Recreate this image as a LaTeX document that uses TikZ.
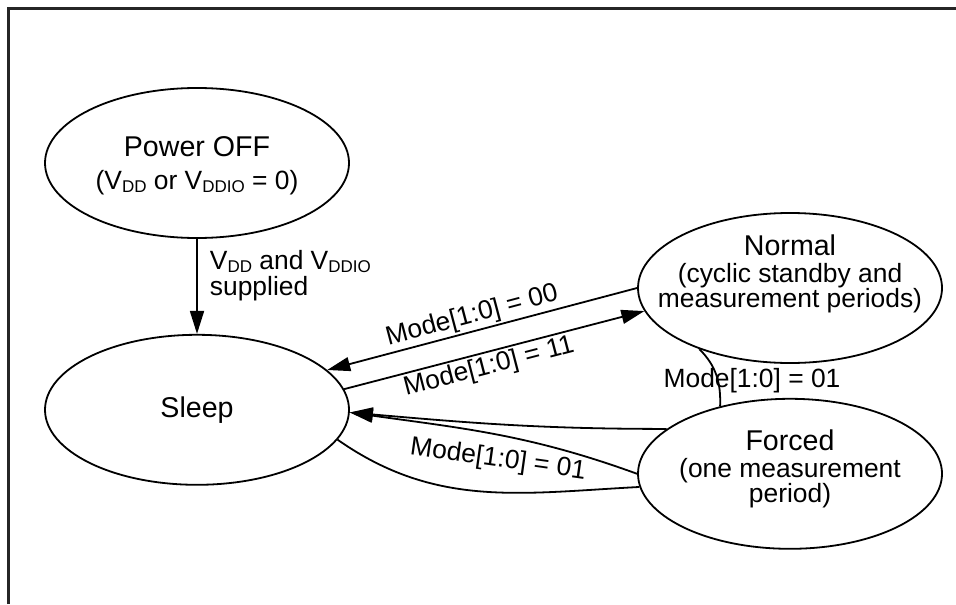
\documentclass[tikz,border=0pt]{standalone}
\usepackage{fontspec}
\setmainfont{Liberation Sans}
\usetikzlibrary{positioning, shapes.geometric, arrows.meta}

\newcommand{\vsub}[1]{\raisebox{-1.5pt}{\fontsize{8.5}{8.5}\selectfont #1}}
\newcommand{\statename}[1]{{\fontsize{14.3}{14}\selectfont #1}}

\tikzset{
  state/.style={draw, ellipse, line width=0.9pt, minimum width=152pt, minimum height=75pt, inner sep=0pt},
  statetext/.style={align=center, inner sep=0pt, font=\fontsize{13.2}{12.5}\selectfont},
  trans/.style={line width=0.9pt, -{Triangle[length=11.5pt, width=7pt]}},
  modelabel/.style={font=\fontsize{13.2}{13}\selectfont, inner sep=1pt},
}

\begin{document}
\begin{tikzpicture}[x=0.5pt, y=-0.5pt]
  \useasboundingbox (0,0) rectangle (956,604);
  % frame, only top and left edge show
  \draw[line width=1.5pt, black!85] (8,604) -- (8,9) -- (956,9);

  % states
  \node[state] (power) at (197,163) {};
  \node[state, below=47.5pt of power] (sleep) {};
  \node[state] (normal) at (790,288) {};
  \node[state, below=17pt of normal] (forced) {};

  \node[statetext] (powertext) at ([yshift=-1.5pt]power.center) {\statename{Power OFF}\\[4pt] (V\vsub{DD} or V\vsub{DDIO} = 0)};
  \node[statetext] (sleeptext) at (sleep.center) {\statename{Sleep}};
  \node[statetext] (normaltext) at ([yshift=7.25pt]normal.center) {\statename{Normal}\\[1pt] (cyclic standby and\\ measurement periods)};
  \node[statetext] (forcedtext) at ([yshift=2.5pt]forced.center) {\statename{Forced}\\[1pt] (one measurement\\ period)};

  % transitions
  \draw[trans] (power) -- node[right=5pt, yshift=5.25pt, align=left, modelabel] (supplied) {V\vsub{DD} and V\vsub{DDIO}\\ supplied} (sleep);
  \draw[trans] (normal.west) -- node[pos=0.52, sloped, above, modelabel] (m00) {Mode[1:0] = 00} (sleep.17.5);
  \draw[trans] (sleep.8) -- node[pos=0.47, sloped, below, modelabel] (m11) {Mode[1:0] = 11} (normal.189);
  \draw[trans] (forced.160) to[out=180, in=-5] (sleep.-1.5);
  \draw[trans] (forced.west) to[out=160, in=-8] (sleep.-1.5);
  \draw[line width=0.9pt] (sleep.-12.5) to[out=-35, in=183] (forced.185.5);
  \draw[line width=0.9pt] (normal.214) to[out=-45, in=88] (forced.136.5);
  \node[modelabel] (m01a) at (752,381) {Mode[1:0] = 01};
  \node[modelabel, rotate=-8] (m01b) at (498,460) {Mode[1:0] = 01};
\end{tikzpicture}
\end{document}
